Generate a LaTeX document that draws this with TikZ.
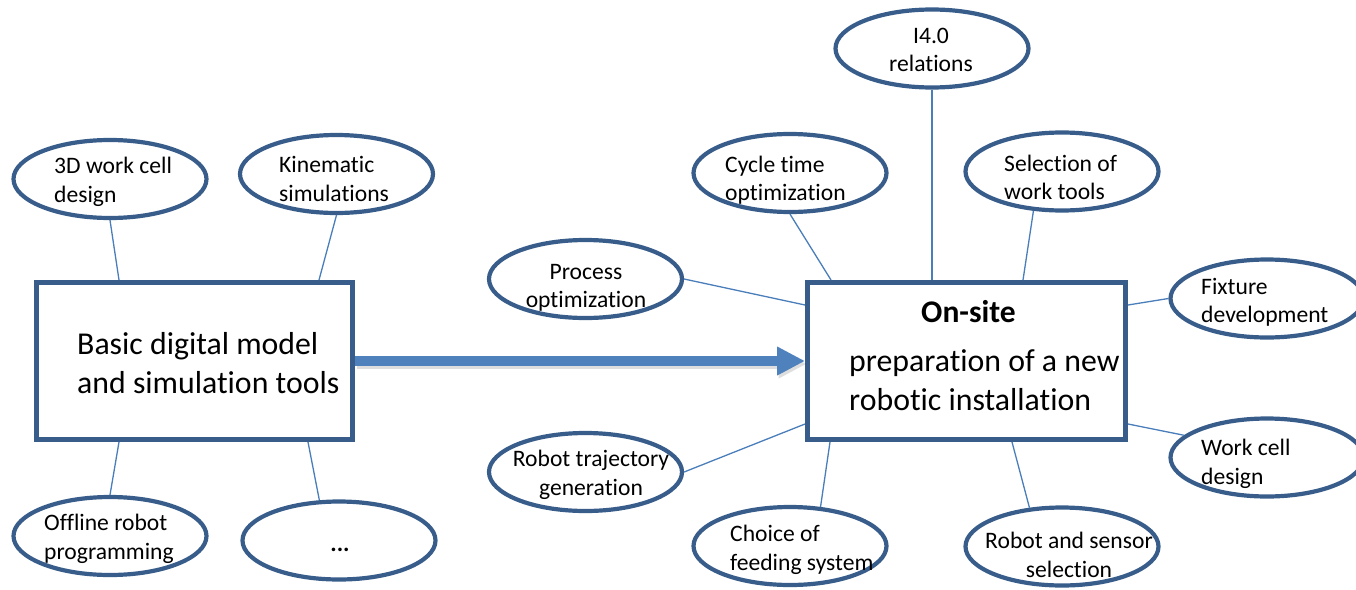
\documentclass[tikz,border=0pt]{standalone}
\usepackage{fontspec}
\setmainfont{Carlito}[Ligatures={NoCommon}]
\usetikzlibrary{shapes.geometric,arrows.meta}
\definecolor{edge}{HTML}{385D8A}
\definecolor{link}{HTML}{4A7EBB}
\definecolor{flow}{HTML}{4F81BD}
\begin{document}
\begin{tikzpicture}[x=1pt,y=-1pt,
  bubble/.style={ellipse, draw=edge, line width=4.2pt, fill=white,
    minimum width=193pt, minimum height=78pt, inner sep=0pt},
  panel/.style={rectangle, draw=edge, line width=5pt, fill=white, inner sep=0pt},
  small/.style={inner sep=0pt, font=\fontsize{23.6}{28.5}\selectfont},
  big/.style={inner sep=0pt, font=\fontsize{31.8}{39.5}\selectfont},
  conn/.style={draw=link, line width=1.3pt},
  flowarrow/.style={draw=flow, line width=10pt, -{Triangle[length=28pt,width=27pt]}},
  flowshadow/.style={draw=black, opacity=0.13, line width=10pt, -{Triangle[length=28pt,width=27pt]}},
]
\useasboundingbox (0,0) rectangle (1356,589);

% main panels
\node[panel, minimum width=316pt, minimum height=157pt] (L) at (194.5,361) {};
\node[panel, minimum width=318pt, minimum height=157pt] (R) at (966.5,361) {};

% bubbles around the basic model
\node[bubble] (e3d)  at (110,179)   {};
\node[bubble] (ekin) at (336.5,174) {};
\node[bubble] (eoff) at (110,536)   {};
\node[bubble] (edot) at (339,540.5) {};

% bubbles around the on-site preparation
\node[bubble] (ei40)  at (932,48.5)    {};
\node[bubble] (ecyc)  at (790,173)     {};
\node[bubble] (esel)  at (1062,171.5)  {};
\node[bubble] (eproc) at (585.5,279)   {};
\node[bubble] (efix)  at (1267,298.5)  {};
\node[bubble] (ework) at (1267,457.5)  {};
\node[bubble] (ers)   at (1062,546.5)  {};
\node[bubble] (echo)  at (790,546)     {};
\node[bubble] (etraj) at (585.5,472)   {};

% connectors of the basic model
\draw[conn] ([xshift=85pt]L.north west) -- (e3d.south);
\draw[conn] ([xshift=285pt]L.north west) -- (ekin.south);
\draw[conn] ([xshift=85pt]L.south west) -- (eoff.north);
\draw[conn] ([xshift=274pt]L.south west) -- (edot.116);

% connectors of the on-site preparation
\draw[conn] (ei40.south) -- (ei40.south |- R.north);
\draw[conn] ([xshift=26pt]R.north west) -- (ecyc.south);
\draw[conn] ([xshift=218pt]R.north west) -- (esel.-126);
\draw[conn] ([yshift=-25pt]R.north west) -- (eproc.east);
\draw[conn] ([yshift=-25pt]R.north east) -- (efix.west);
\draw[conn] ([yshift=-144pt]R.north east) -- (ework.165);
\draw[conn] ([xshift=207pt]R.south west) -- (ers.130);
\draw[conn] ([xshift=25pt]R.south west) -- (echo.52);
\draw[conn] ([yshift=-144pt]R.north west) -- (etraj.east);

% flow arrow with its soft shadow
\draw[flowshadow] ([xshift=1.5pt,yshift=-3pt]L.east) -- ([xshift=1.5pt,yshift=-3pt]R.west);
\draw[flowarrow] (L.east) -- (R.west);

% panel texts
\node[big, align=left, anchor=west] (tL) at (77,363) {Basic digital model\\and simulation tools};
\node[big, font=\fontsize{31.5}{39.5}\selectfont\bfseries] (tOn) at (968.5,312) {On-site};
\node[big, align=left, anchor=west] (tR) at (849,380) {preparation of a new\\robotic installation};

% bubble texts
\node[small, align=left, anchor=west] (t3d)  at (54,182)  {3D work cell\\design};
\node[small, align=left, anchor=west] (tkin) at (279,179) {Kinematic\\simulations};
\node[small, align=left, anchor=west] (toff) at (44,539)  {Offline robot\\programming};
\node[small, font=\fontsize{24}{28.5}\selectfont\bfseries, anchor=base] (tdot) at (340,551) {...};

\node[small, align=center] (ti40)  at (931,50)   {I4.0\\relations};
\node[small, align=left, anchor=west] (tcyc) at (725,180) {Cycle time\\optimization};
\node[small, align=left, anchor=west] (tsel) at (1004,177.5) {Selection of\\work tools};
\node[small, align=center] (tproc) at (586,288)  {Process\\optimization};
\node[small, align=left, anchor=west] (tfix) at (1201,302.5) {Fixture\\development};
\node[small, align=left, anchor=west] (twork) at (1201,464) {Work cell\\design};
\node[small, align=center] (trs)   at (1069,555) {Robot and sensor\\selection};
\node[small, align=left, anchor=west] (tcho) at (730,550) {Choice of\\feeding system};
\node[small, align=center] (ttraj) at (591,475)  {Robot trajectory\\generation};
\end{tikzpicture}
\end{document}
